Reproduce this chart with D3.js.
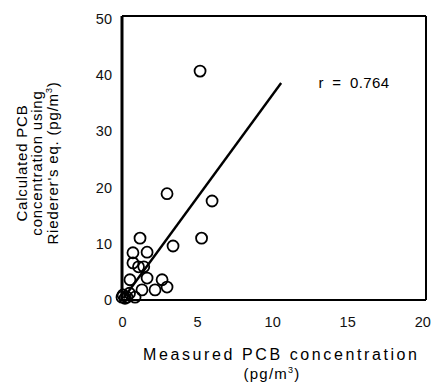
<!DOCTYPE html>
<html>
<head>
<meta charset="utf-8">
<script src="https://cdn.jsdelivr.net/npm/d3@7"></script>
<style>
  body { margin: 0; background: #fff; }
  svg { display: block; font-family: "Liberation Sans", Arial, sans-serif; }
</style>
</head>
<body>
<svg id="chart" width="433" height="388"></svg>
<script>
// measured vs calculated PCB concentration (pg/m3)
const measured   = [5.2, 3.0, 6.0, 5.3, 3.4, 1.2, 0.73, 1.67, 0.73, 1.1, 1.45, 0.53, 1.67, 2.67, 3.0, 2.2, 1.33, 0.07, 0.33, 0.5, 0.87, 0.2, 0.0];
const calculated = [40.7, 18.9, 17.6, 11.0, 9.6, 11.0, 8.4, 8.5, 6.6, 5.9, 5.9, 3.6, 3.9, 3.6, 2.3, 1.8, 1.8, 0.9, 0.5, 1.2, 0.5, 0.3, 0.5];
const fitX = [0.1, 10.6];
const fitY = [0.3, 38.6];
const xTicks = [0, 5, 10, 15, 20];
const yTicks = [0, 10, 20, 30, 40, 50];
const rLabel = "r = 0.764";

const svg = d3.select('#chart');

const x = d3.scaleLinear().domain([0, 20.25]).range([122, 426]);
const y = d3.scaleLinear().domain([0, 50.5]).range([300, 16]);

// frame
const frame = svg.append('g').attr('stroke', '#000').attr('fill', 'none');
frame.append('line').attr('x1', x(0)).attr('x2', x(0)).attr('y1', y(50.5)).attr('y2', y(0)).attr('stroke-width', 3);
frame.append('line').attr('x1', x(0)).attr('x2', x(20.25)).attr('y1', y(0)).attr('y2', y(0)).attr('stroke-width', 2.2);
frame.append('line').attr('x1', x(0)).attr('x2', x(20.25)).attr('y1', y(50.5)).attr('y2', y(50.5)).attr('stroke-width', 2);
frame.append('line').attr('x1', x(20.25)).attr('x2', x(20.25)).attr('y1', y(50.5)).attr('y2', y(0)).attr('stroke-width', 2);

// axes (labels only, no tick marks)
const yAxis = svg.append('g')
  .attr('transform', `translate(${x(0) - 10},0)`)
  .call(d3.axisLeft(y).tickValues(yTicks).tickSize(0).tickPadding(0));
yAxis.select('.domain').remove();
yAxis.selectAll('text').attr('font-size', 14.5).attr('fill', '#111').attr('font-family', null);

const xAxis = svg.append('g')
  .attr('transform', `translate(0,${y(0) + 17})`)
  .call(d3.axisBottom(x).tickValues(xTicks).tickSize(0).tickPadding(0));
xAxis.select('.domain').remove();
xAxis.selectAll('text').attr('font-size', 14.5).attr('fill', '#111').attr('font-family', null);

// regression line
svg.append('line')
  .attr('x1', x(fitX[0])).attr('y1', y(fitY[0]))
  .attr('x2', x(fitX[1])).attr('y2', y(fitY[1]))
  .attr('stroke', '#000').attr('stroke-width', 2.4);

// points
svg.append('g')
  .selectAll('circle')
  .data(measured.map((m, i) => [m, calculated[i]]))
  .join('circle')
    .attr('cx', d => x(d[0]))
    .attr('cy', d => y(d[1]))
    .attr('r', 5.5)
    .attr('fill', 'none')
    .attr('stroke', '#000')
    .attr('stroke-width', 1.8);

svg.append('text')
  .attr('x', 354).attr('y', 88)
  .attr('text-anchor', 'middle')
  .attr('font-size', 15)
  .attr('word-spacing', 4)
  .attr('letter-spacing', 0.4)
  .text(rLabel);

// x title
svg.append('text')
  .attr('x', 280).attr('y', 360)
  .attr('text-anchor', 'middle')
  .attr('font-size', 16)
  .attr('textLength', 274).attr('lengthAdjust', 'spacing')
  .text('Measured PCB concentration');
const unitX = svg.append('text')
  .attr('x', 272).attr('y', 379)
  .attr('text-anchor', 'middle')
  .attr('font-size', 15)
  .attr('letter-spacing', 1.2);
unitX.append('tspan').text('(pg/m');
unitX.append('tspan').attr('font-size', 9).attr('dy', -6).text('3');
unitX.append('tspan').attr('dy', 6).text(')');

// y title, three rotated lines
const yTitle = svg.append('g')
  .attr('transform', 'translate(0,163) rotate(-90)')
  .attr('text-anchor', 'middle')
  .attr('font-size', 15)
  .attr('letter-spacing', 0.8);
yTitle.append('text').attr('x', 0).attr('y', 27).text('Calculated PCB');
yTitle.append('text').attr('x', 0).attr('y', 42).text('concentration using');
const yt3 = yTitle.append('text').attr('x', 0).attr('y', 58);
yt3.append('tspan').text("Riederer's eq. (pg/m");
yt3.append('tspan').attr('font-size', 9).attr('dy', -6).text('3');
yt3.append('tspan').attr('dy', 6).text(')');
</script>
</body>
</html>
